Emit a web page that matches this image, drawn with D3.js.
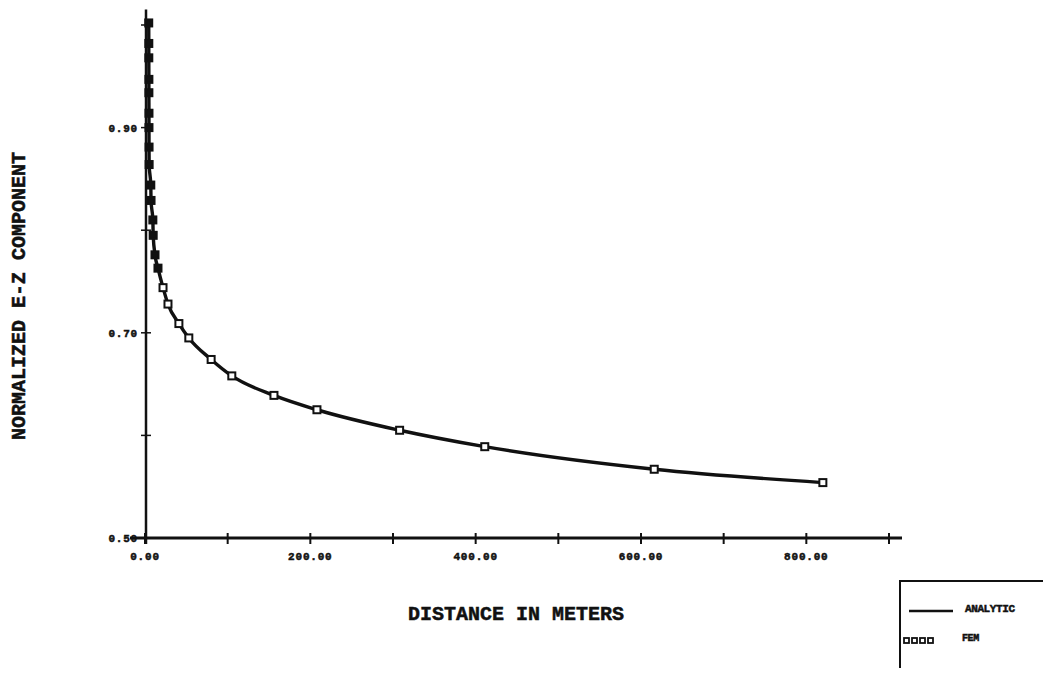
<!DOCTYPE html>
<html>
<head>
<meta charset="utf-8">
<title>normalized e-z component</title>
<style>
  body { margin: 0; background: #fff; }
  svg text { font-family: "Liberation Mono", "DejaVu Sans Mono", monospace; font-weight: bold; fill: #111; stroke: #111; stroke-width: 0.5; }
</style>
</head>
<body>
<svg id="chart" width="1043" height="674"></svg>
<script src="https://d3js.org/d3.v7.min.js"></script>
<script>
// distance in meters
var distances = [4.5, 4.6, 4.6, 4.7, 4.7, 4.8, 4.8, 4.9, 5.0, 7.0, 7.3, 9.5, 9.9, 12.1, 15.7, 21.8, 27.8, 41, 53, 80, 105, 156, 208, 308, 411, 616, 820];
var analyticValues = [1.002, 0.982, 0.968, 0.947, 0.934, 0.914, 0.900, 0.881, 0.864, 0.844, 0.829, 0.810, 0.795, 0.776, 0.763, 0.744, 0.728, 0.709, 0.695, 0.674, 0.658, 0.639, 0.625, 0.605, 0.589, 0.567, 0.554];
var femValues = [1.002, 0.982, 0.968, 0.947, 0.934, 0.914, 0.900, 0.881, 0.864, 0.844, 0.829, 0.810, 0.795, 0.776, 0.763, 0.744, 0.728, 0.709, 0.695, 0.674, 0.658, 0.639, 0.625, 0.605, 0.589, 0.567, 0.554];

var xTicks = [0, 100, 200, 300, 400, 500, 600, 700, 800, 900];
var xTickLabels = [0, 200, 400, 600, 800];
var yTicks = [0.5, 0.6, 0.7, 0.8, 0.9, 1.0];
var yTickLabels = [0.5, 0.7, 0.9];

var svg = d3.select("#chart");
var x = d3.scaleLinear().domain([0, 900]).range([145, 889]);
var y = d3.scaleLinear().domain([0.5, 1.0]).range([538, 25]);

// axes
svg.append("line")
  .attr("x1", x(0) - 15).attr("x2", x(900) + 13)
  .attr("y1", y(0.5)).attr("y2", y(0.5))
  .attr("stroke", "#111").attr("stroke-width", 2.8);
svg.append("line")
  .attr("x1", x(0) + 1).attr("x2", x(0) + 1)
  .attr("y1", y(0.5) + 6).attr("y2", y(1.015))
  .attr("stroke", "#111").attr("stroke-width", 2.5);

svg.selectAll(".xtick").data(xTicks).enter().append("line")
  .attr("class", "xtick")
  .attr("x1", function(d){ return x(d); }).attr("x2", function(d){ return x(d); })
  .attr("y1", y(0.5) - 5).attr("y2", y(0.5) + 6)
  .attr("stroke", "#111").attr("stroke-width", 2);
svg.selectAll(".ytick").data(yTicks).enter().append("line")
  .attr("class", "ytick")
  .attr("x1", x(0) - 4).attr("x2", x(0) + 6)
  .attr("y1", function(d){ return y(d); }).attr("y2", function(d){ return y(d); })
  .attr("stroke", "#111").attr("stroke-width", 1.5);

var fmt = d3.format(".2f");
svg.selectAll(".xlab").data(xTickLabels).enter().append("text")
  .attr("class", "xlab")
  .attr("x", function(d){ return x(d); })
  .attr("y", y(0.5) + 22)
  .attr("text-anchor", "middle")
  .attr("font-size", 11)
  .attr("letter-spacing", 0.8)
  .text(function(d){ return fmt(d); });
svg.selectAll(".ylab").data(yTickLabels).enter().append("text")
  .attr("class", "ylab")
  .attr("x", x(0) - 7)
  .attr("y", function(d){ return y(d) + 4; })
  .attr("text-anchor", "end")
  .attr("font-size", 11)
  .attr("letter-spacing", 0.8)
  .text(function(d){ return fmt(d); });

// titles
svg.append("text")
  .attr("x", 516).attr("y", 620)
  .attr("text-anchor", "middle")
  .attr("font-size", 20)
  .text("DISTANCE IN METERS");
svg.append("text")
  .attr("transform", "translate(25,296) rotate(-90)")
  .attr("text-anchor", "middle")
  .attr("font-size", 20)
  .text("NORMALIZED E-Z COMPONENT");

// analytic curve
var pts = distances.map(function(d, i){ return [d, analyticValues[i]]; });
var line = d3.line()
  .x(function(d){ return x(d[0]); })
  .y(function(d){ return y(d[1]); })
  .curve(d3.curveMonotoneX);
svg.append("path")
  .datum(pts)
  .attr("d", line)
  .attr("fill", "none")
  .attr("stroke", "#111")
  .attr("stroke-width", 3.4);

// FEM markers
svg.selectAll(".fem").data(femValues).enter().append("rect")
  .attr("class", "fem")
  .attr("x", function(d, i){ return x(distances[i]) - 3.5; })
  .attr("y", function(d){ return y(d) - 3.5; })
  .attr("width", 7).attr("height", 7)
  .attr("fill", function(d, i){ return distances[i] < 20 ? "#111" : "#fff"; })
  .attr("stroke", "#111")
  .attr("stroke-width", 2);

// legend
var lg = svg.append("g");
lg.append("path")
  .attr("d", "M900,668 L900,581 L1043,581")
  .attr("fill", "none").attr("stroke", "#111").attr("stroke-width", 2);
lg.append("line")
  .attr("x1", 909).attr("x2", 953).attr("y1", 611).attr("y2", 611)
  .attr("stroke", "#111").attr("stroke-width", 2.5);
lg.append("text")
  .attr("x", 965).attr("y", 612)
  .attr("font-size", 11)
  .attr("letter-spacing", -0.4)
  .text("ANALYTIC");
lg.selectAll(".lsq").data([0, 1, 2, 3]).enter().append("rect")
  .attr("class", "lsq")
  .attr("x", function(d){ return 904 + d * 8; })
  .attr("y", 638)
  .attr("width", 5).attr("height", 5)
  .attr("fill", "#fff").attr("stroke", "#111").attr("stroke-width", 1.8);
lg.append("text")
  .attr("x", 962).attr("y", 641)
  .attr("font-size", 10)
  .attr("letter-spacing", -0.4)
  .text("FEM");
</script>
</body>
</html>
